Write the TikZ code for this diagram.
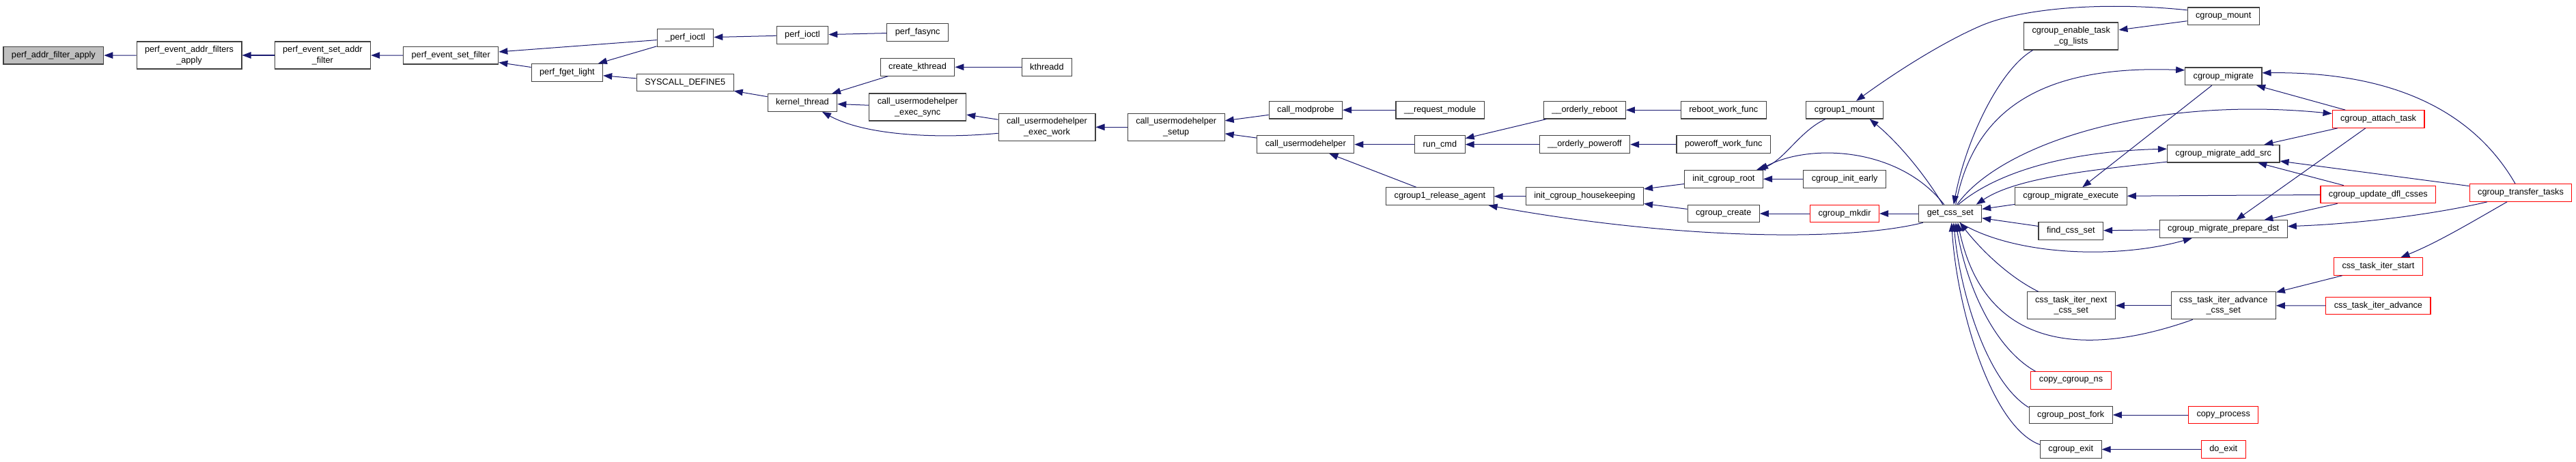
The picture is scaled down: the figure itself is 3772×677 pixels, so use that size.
\documentclass[tikz,border=0pt]{standalone}
\usepackage{fontspec}
\setmainfont{Liberation Sans}
\usetikzlibrary{arrows.meta}
\definecolor{ink}{HTML}{000000}
\definecolor{boxB}{HTML}{404040}
\definecolor{trunc}{HTML}{FF0000}
\definecolor{rootfill}{HTML}{BFBFBF}
\definecolor{callB}{HTML}{191970}

\begin{document}
\begin{tikzpicture}[x=1pt, y=1pt,
    every node/.style={font=\fontsize{12.7}{15.5}\selectfont, text=ink},
    fn/.style={draw=boxB, fill=white, align=center, inner xsep=12pt, inner ysep=2pt,
               minimum height=25.6pt, line width=1.1pt},
    fntwo/.style={fn, minimum height=40pt},
    fnhot/.style={fn, draw=trunc},
    fnroot/.style={fn, fill=rootfill},
    call/.style={-{Triangle[length=13pt, width=9.5pt]}, draw=callB, line width=1pt},
  ]
  \useasboundingbox (0,0) rectangle (3772,-677);

  % perf side, from the root to the right
  \node[fnroot] (pafa)      at (78.4,-81.2)   {perf\_addr\_filter\_apply};
  \node[fntwo]  (evfapply)  at (277,-81)      {perf\_event\_addr\_filters\\\_apply};
  \node[fntwo]  (setaddrf)  at (472.4,-81)    {perf\_event\_set\_addr\\\_filter};
  \node[fn]     (setfilter) at (660.2,-81.2)  {perf\_event\_set\_filter};
  \node[fn]     (fgetlight) at (830.4,-106.3) {perf\_fget\_light};
  \node[fn]     (ioctlin)   at (1003.5,-55.5) {\_perf\_ioctl};
  \node[fn]     (sysdef)    at (1003.2,-121)  {SYSCALL\_DEFINE5};
  \node[fn]     (ioctl)     at (1175,-51.5)   {perf\_ioctl};
  \node[fn]     (kthread)   at (1174.9,-150.5){kernel\_thread};
  \node[fn]     (fasync)    at (1343.7,-47.5) {perf\_fasync};
  \node[fn]     (createkt)  at (1343.5,-98.3) {create\_kthread};
  \node[fntwo]  (umhsync)   at (1343.7,-157)  {call\_usermodehelper\\\_exec\_sync};
  \node[fn]     (kthreadd)  at (1532.9,-98.3) {kthreadd};
  \node[fntwo]  (umhwork)   at (1533,-186.3)  {call\_usermodehelper\\\_exec\_work};
  \node[fntwo]  (umhsetup)  at (1722.2,-186.3){call\_usermodehelper\\\_setup};

  % usermode helper callers
  \node[fn] (modprobe)   at (1911.8,-161.2) {call\_modprobe};
  \node[fn] (umh)        at (1911.8,-211.7) {call\_usermodehelper};
  \node[fn] (reqmod)     at (2108.6,-161.2) {\_\_request\_module};
  \node[fn] (runcmd)     at (2108.4,-211.7) {run\_cmd};
  \node[fn] (relagent)   at (2108.4,-287.7) {cgroup1\_release\_agent};
  \node[fn] (oreboot)    at (2320.4,-161.2) {\_\_orderly\_reboot};
  \node[fn] (opoweroff)  at (2320.4,-211.7) {\_\_orderly\_poweroff};
  \node[fn] (housekeep)  at (2320.4,-287.7) {init\_cgroup\_housekeeping};
  \node[fn] (rebootwf)   at (2523.7,-161.2) {reboot\_work\_func};
  \node[fn] (poweroffwf) at (2523.7,-211.7) {poweroff\_work\_func};
  \node[fn] (initroot)   at (2523.9,-262.3) {init\_cgroup\_root};
  \node[fn] (cgcreate)   at (2523.7,-313)   {cgroup\_create};
  \node[fn] (cg1mount)   at (2701,-161.2)   {cgroup1\_mount};
  \node[fn] (initearly)  at (2701.2,-262.3) {cgroup\_init\_early};
  \node[fnhot] (mkdir)   at (2701,-313)     {cgroup\_mkdir};
  \node[fn] (getcss)     at (2855.7,-313)   {get\_css\_set};

  % cgroup side
  \node[fntwo] (enabletask) at (3032.7,-53)   {cgroup\_enable\_task\\\_cg\_lists};
  \node[fn]    (migexec)    at (3032.3,-287.7){cgroup\_migrate\_execute};
  \node[fn]    (findcss)    at (3032.3,-338.3){find\_css\_set};
  \node[fntwo] (iternext)   at (3032.7,-447.8){css\_task\_iter\_next\\\_css\_set};
  \node[fnhot] (copyns)     at (3032.5,-557.5){copy\_cgroup\_ns};
  \node[fn]    (postfork)   at (3032.2,-608)  {cgroup\_post\_fork};
  \node[fn]    (cgexit)     at (3032.2,-658.5){cgroup\_exit};
  \node[fn]    (cgmount)    at (3255.7,-23.8) {cgroup\_mount};
  \node[fn]    (migrate)    at (3255.8,-111.8){cgroup\_migrate};
  \node[fn]    (addsrc)     at (3255.7,-225.2){cgroup\_migrate\_add\_src};
  \node[fn]    (prepdst)    at (3255.7,-335.7){cgroup\_migrate\_prepare\_dst};
  \node[fntwo] (iteradv)    at (3255.7,-447.8){css\_task\_iter\_advance\\\_css\_set};
  \node[fnhot] (copyproc)   at (3255.7,-608)  {copy\_process};
  \node[fnhot] (doexit)     at (3255.7,-658.5){do\_exit};
  \node[fnhot] (attach)     at (3482.5,-174.5){cgroup\_attach\_task};
  \node[fnhot] (updcss)     at (3482.3,-285)  {cgroup\_update\_dfl\_csses};
  \node[fnhot] (iterstart)  at (3482.4,-390.5){css\_task\_iter\_start};
  \node[fnhot] (iteradvance) at (3482.4,-448) {css\_task\_iter\_advance};
  \node[fnhot] (transfer)   at (3691,-282.5)  {cgroup\_transfer\_tasks};

  % calls on the perf side
  \draw[call] (evfapply) -- (pafa);
  \draw[call] (setaddrf) -- (evfapply);
  \draw[call] (setfilter) -- (setaddrf);
  \draw[call] (ioctlin) -- (setfilter);
  \draw[call] (fgetlight) -- (setfilter);
  \draw[call] (ioctlin) -- (fgetlight);
  \draw[call] (sysdef) -- (fgetlight);
  \draw[call] (ioctl) -- (ioctlin);
  \draw[call] (fasync) -- (ioctl);
  \draw[call] (kthread) -- (sysdef);
  \draw[call] (createkt) -- (kthread);
  \draw[call] (umhsync) -- (kthread);
  \draw[call] ([yshift=-9]umhwork.west) .. controls (1380,-203) and (1270,-200) .. ([xshift=29]kthread.south);
  \draw[call] (kthreadd) -- (createkt);
  \draw[call] (umhwork) -- (umhsync);
  \draw[call] (umhsetup) -- (umhwork);
  \draw[call] (modprobe) -- (umhsetup);
  \draw[call] (umh) -- (umhsetup);
  \draw[call] (reqmod) -- (modprobe);
  \draw[call] (runcmd) -- (umh);
  \draw[call] (relagent) -- (umh);
  \draw[call] (oreboot) -- (runcmd);
  \draw[call] (opoweroff) -- (runcmd);
  \draw[call] (rebootwf) -- (oreboot);
  \draw[call] (poweroffwf) -- (opoweroff);
  \draw[call] (housekeep) -- (relagent);
  \draw[call] (initroot) -- (housekeep);
  \draw[call] (cgcreate) -- (housekeep);
  \draw[call] (initearly) -- (initroot);
  \draw[call] (mkdir) -- (cgcreate);
  \draw[call] (getcss) -- (mkdir);

  % get_css_set and its neighbours
  \draw[call] ([xshift=-40]getcss.south) .. controls (2700,-355) and (2450,-350) .. ([xshift=-8]relagent.south east);
  \draw[call] ([xshift=-28]cg1mount.south) .. controls (2635,-192) and (2612,-236) .. ([xshift=-10]initroot.north east);
  \draw[call] ([xshift=-9]getcss.north) .. controls (2780,-215) and (2650,-210) .. ([xshift=-6]initroot.north east);
  \draw[call] ([xshift=-11]getcss.north) .. controls (2815,-250) and (2775,-205) .. ([xshift=-20]cg1mount.south east);
  \draw[call] ([yshift=9]cgmount.west) .. controls (3080,-2) and (2960,-12) .. (2900,-38)
              .. controls (2840,-64) and (2770,-110) .. ([xshift=17]cg1mount.north);
  \draw[call] (cgmount) -- (enabletask);
  \draw[call] ([xshift=-56]enabletask.south) .. controls (2930,-100) and (2880,-200) .. ([xshift=5]getcss.north);
  \draw[call] ([xshift=8]getcss.north) .. controls (2890,-160) and (2990,-95) .. ([yshift=9]migrate.west);
  \draw[call] ([xshift=10]getcss.north) .. controls (2930,-210) and (3150,-140) .. ([yshift=8]attach.west);
  \draw[call] ([xshift=12]getcss.north) .. controls (2920,-255) and (3020,-222) .. ([yshift=7]addsrc.west);
  \draw[call] ([yshift=-12]addsrc.west) .. controls (3050,-250) and (2950,-262) .. ([xshift=38]getcss.north);
  \draw[call] (migexec) -- (getcss);
  \draw[call] (findcss) -- (getcss);
  \draw[call] ([xshift=14]getcss.south) .. controls (2950,-375) and (3100,-380) .. ([xshift=-46]prepdst.south);
  \draw[call] ([xshift=-48]iternext.north) .. controls (2940,-405) and (2900,-365) .. ([xshift=14]getcss.south);
  \draw[call] ([xshift=-45]iteradv.south) .. controls (3080,-515) and (2910,-530) .. ([xshift=11]getcss.south);
  \draw[call] ([xshift=-52]copyns.north) .. controls (2920,-510) and (2880,-420) .. ([xshift=8]getcss.south);
  \draw[call] ([yshift=11]postfork.west) .. controls (2910,-560) and (2870,-430) .. ([xshift=5]getcss.south);
  \draw[call] ([yshift=7]cgexit.west) .. controls (2915,-625) and (2865,-450) .. ([xshift=2]getcss.south);

  % migration helpers
  \draw[call] (migrate) -- (migexec);
  \draw[call] ([xshift=-8]transfer.north) .. controls (3620,-160) and (3500,-105) .. ([yshift=5]migrate.east);
  \draw[call] (attach) -- (migrate);
  \draw[call] (attach) -- (addsrc);
  \draw[call] (attach) -- (prepdst);
  \draw[call] (updcss) -- (addsrc);
  \draw[call] (updcss) -- (migexec);
  \draw[call] (updcss) -- (prepdst);
  \draw[call] (transfer) -- (addsrc);
  \draw[call] ([xshift=-49]transfer.south) .. controls (3560,-315) and (3450,-328) .. ([yshift=4]prepdst.east);
  \draw[call] ([xshift=-20]transfer.south) .. controls (3620,-325) and (3570,-355) .. ([xshift=33]iterstart.north);
  \draw[call] (iterstart) -- (iteradv);
  \draw[call] (iteradvance) -- (iteradv);
  \draw[call] (iteradv) -- (iternext);
  \draw[call] (prepdst) -- (findcss);
  \draw[call] (copyproc) -- (postfork);
  \draw[call] (doexit) -- (cgexit);
\end{tikzpicture}
\end{document}
